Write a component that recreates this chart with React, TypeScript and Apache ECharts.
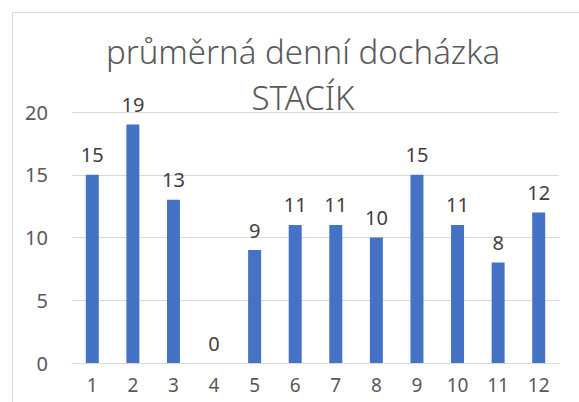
import React, { useEffect, useRef } from "react";
import * as echarts from "echarts";

const categories = ["1", "2", "3", "4", "5", "6", "7", "8", "9", "10", "11", "12"];
const values = [15, 19, 13, 0, 9, 11, 11, 10, 15, 11, 8, 12];
const titleLines = ["průměrná denní docházka", "STACÍK"];

export default function App() {
  const ref = useRef<HTMLDivElement>(null);
  useEffect(() => {
    if (!ref.current) return;
    const chart = echarts.init(ref.current, undefined, { renderer: "svg" });
    const font = "'Noto Sans', 'Open Sans', sans-serif";
    chart.setOption({
      animation: false,
      backgroundColor: "#ffffff",
      title: {
        text: titleLines.join("\n"),
        left: 303,
        top: 28,
        textAlign: "center",
        padding: 0,
        textStyle: {
          fontFamily: font,
          fontSize: 33,
          fontWeight: 300,
          color: "#595959",
          lineHeight: 46,
        },
      },
      graphic: [
        {
          type: "rect",
          left: 10,
          top: 10,
          shape: { x: 0, y: 0, width: 700, height: 600 },
          style: { fill: "none", stroke: "#d9d9d9", lineWidth: 1 },
          silent: true,
          z: -1,
        },
      ],
      grid: { left: 72, right: 20, top: 112, bottom: 39, containLabel: false },
      xAxis: {
        type: "category",
        data: categories,
        axisLine: { show: true, lineStyle: { color: "#d9d9d9", width: 1 } },
        axisTick: { show: false },
        axisLabel: {
          color: "#595959",
          fontFamily: font,
          fontSize: 19,
          margin: 12,
        },
      },
      yAxis: {
        type: "value",
        min: 0,
        max: 20,
        interval: 5,
        axisLine: { show: false },
        axisTick: { show: false },
        splitLine: { lineStyle: { color: "#d9d9d9", width: 1 } },
        axisLabel: { color: "#595959", fontFamily: font, fontSize: 20, margin: 24 },
      },
      series: [
        {
          type: "bar",
          data: values,
          barWidth: 13,
          itemStyle: { color: "#4472C4" },
          label: {
            show: true,
            position: "top",
            distance: 10,
            color: "#404040",
            fontFamily: font,
            fontSize: 20,
          },
        },
      ],
    });
    return () => chart.dispose();
  }, []);
  return (
    <div
      ref={ref}
      style={{ position: "fixed", left: 0, top: 0, width: 579, height: 402 }}
    />
  );
}
